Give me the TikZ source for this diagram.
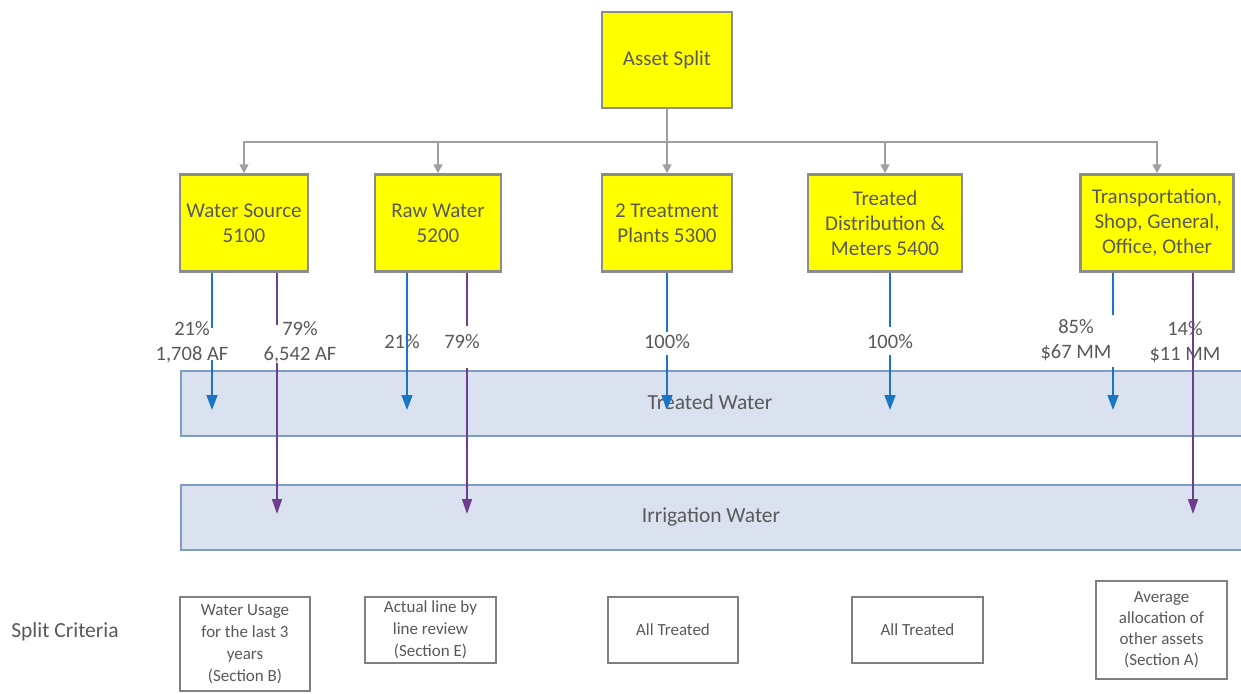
\documentclass[tikz,border=0pt]{standalone}
\usepackage{fontspec}
\setmainfont{Carlito}
\usetikzlibrary{arrows.meta}
\definecolor{txt}{HTML}{595959}
\definecolor{boxbd}{HTML}{8C8C8C}
\definecolor{conn}{HTML}{A0A0A0}
\definecolor{bluel}{HTML}{1A75C4}
\definecolor{purp}{HTML}{6E3D8E}
\definecolor{bandfill}{HTML}{DAE2F0}
\definecolor{bandbd}{HTML}{7F9CC6}
\definecolor{critbd}{HTML}{808080}
\definecolor{yel}{HTML}{FFFF00}
\begin{document}
\begin{tikzpicture}[x=1pt,y=-1pt,
  ybox/.style={draw=boxbd, line width=2.5pt, fill=yel, text=txt,
    font=\fontsize{21}{25}\selectfont, align=center, inner sep=0pt, minimum height=97pt},
  crit/.style={draw=critbd, line width=2.2pt, fill=white, text=txt,
    font=\fontsize{17}{22}\selectfont, align=center, inner sep=0pt},
  band/.style={draw=bandbd, line width=2pt, fill=bandfill},
  bandtxt/.style={text=txt, font=\fontsize{21.5}{25}\selectfont},
  lbl/.style={text=txt, font=\fontsize{20.5}{25}\selectfont, align=center, inner sep=1pt},
  conn/.style={draw=conn, line width=1.6pt},
  conna/.style={conn, -{Triangle[width=9pt,length=9pt]}},
  bl/.style={draw=bluel, line width=1.5pt},
  bla/.style={bl, -{Triangle[width=11pt,length=15pt]}},
  pl/.style={draw=purp, line width=1.5pt},
  pla/.style={pl, -{Triangle[width=10pt,length=15pt]}}
]
\useasboundingbox (0,0) rectangle (1241,693);
\clip (0,0) rectangle (1241,693);
\fill[white] (0,0) rectangle (1241,693);

% bands
\node[band, minimum width=1090pt, minimum height=65pt, anchor=north west] (twb) at (180,370) {};
\node[band, minimum width=1090pt, minimum height=65pt, anchor=north west] (iwb) at (180,484) {};
\node[bandtxt] (twt) at (710,402) {Treated Water};
\node[bandtxt] (iwt) at (711,517) {Irrigation Water};

% boxes
\node[ybox, minimum width=130pt, minimum height=96pt] (as) at (667,60) {Asset Split};
\node[ybox, minimum width=128pt] (ws) at (244,223) {Water Source\\5100};
\node[ybox, minimum width=126pt] (rw) at (438,223) {Raw Water\\5200};
\node[ybox, minimum width=130pt] (tp) at (667,223) {2 Treatment\\Plants 5300};
\node[ybox, minimum width=154pt] (td) at (885,223) {Treated\\Distribution \&\\Meters 5400};
\node[ybox, minimum width=153pt] (tr) at (1157,223) {Transportation,\\Shop, General,\\Office, Other};

% tree connectors
\coordinate (bus) at (667,142);
\draw[conn] (as.south) -- (bus);
\draw[conna] (bus) -| (ws.north);
\draw[conna] (bus) -| (rw.north);
\draw[conna] (bus) -- (tp.north);
\draw[conna] (bus) -| (td.north);
\draw[conna] (bus) -| (tr.north);

% arrow tip coordinates
\coordinate (a1) at (212,410);
\coordinate (a2) at (407,410);
\coordinate (a3) at (667,410);
\coordinate (a4) at (890,410);
\coordinate (a5) at (1113,410);
\coordinate (p1) at (277,514);
\coordinate (p2) at (467,514);
\coordinate (p3) at (1193,514);

% labels
\node[lbl] (l1) at (192,342) {21\%\\1,708 AF};
\node[lbl] (l2) at (300,342) {79\%\\6,542 AF};
\node[lbl] (l3) at (402,342) {21\%};
\node[lbl] (l4) at (462,342) {79\%};
\node[lbl] (l5) at (667,342) {100\%};
\node[lbl] (l6) at (890,342) {100\%};
\node[lbl] (l7) at (1076,340) {85\%\\\$67 MM};
\node[lbl] (l8) at (1185,342) {14\%\\\$11 MM};

% flow lines
\draw[bl] (ws.south -| a1) -- (a1 |- 0,328);
\draw[bla] (a1 |- 0,360) -- (a1);
\draw[pl] (ws.south -| p1) -- (p1 |- 0,325);
\draw[pla] (p1 |- 0,363) -- (p1);
\draw[bla] (rw.south -| a2) -- (a2);
\draw[pl] (rw.south -| p2) -- (p2 |- 0,326);
\draw[pla] (p2 |- 0,368) -- (p2);
\draw[bl] (tp.south -| a3) -- (a3 |- 0,332);
\draw[bla] (a3 |- 0,355) -- (a3);
\draw[bl] (td.south -| a4) -- (a4 |- 0,327);
\draw[bla] (a4 |- 0,355) -- (a4);
\draw[bl] (tr.south -| a5) -- (a5 |- 0,315);
\draw[bla] (a5 |- 0,367) -- (a5);
\draw[pla] (tr.south -| p3) -- (p3);

% split criteria
\node[text=txt, font=\fontsize{21.5}{25}\selectfont] (sc) at (65,632) {Split Criteria};
\node[crit, minimum width=130pt, minimum height=94pt] (c1) at (245,644) {Water Usage\\for the last 3\\years\\(Section B)};
\node[crit, minimum width=131pt, minimum height=66pt] (c2) at (430.5,630) {Actual line by\\line review\\(Section E)};
\node[crit, minimum width=130pt, minimum height=66pt] (c3) at (673,630) {All Treated};
\node[crit, minimum width=131pt, minimum height=66pt] (c4) at (917.5,630) {All Treated};
\node[crit, minimum width=131pt, minimum height=98pt, font=\fontsize{17}{21}\selectfont] (c5) at (1161.5,630) {Average\\allocation of\\other assets\\(Section A)};
\end{tikzpicture}
\end{document}
